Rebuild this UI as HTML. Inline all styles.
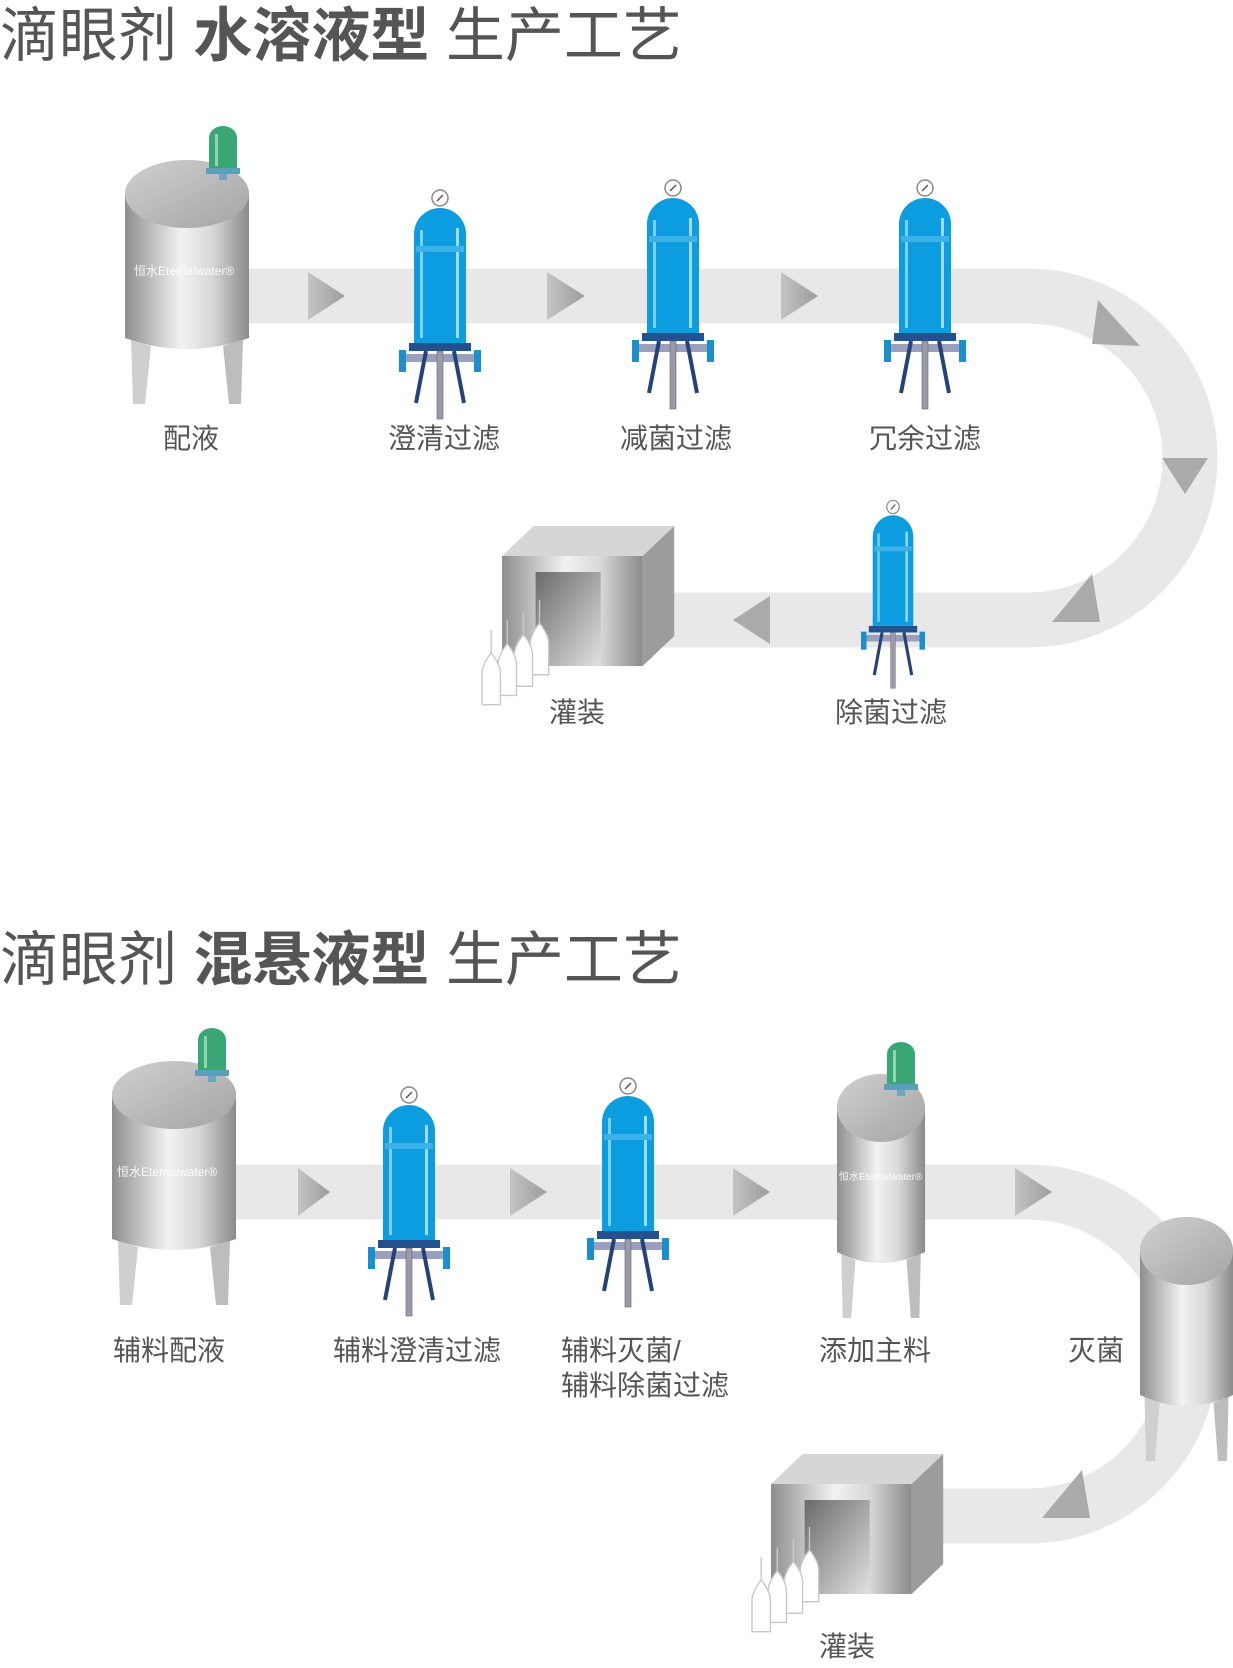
<!DOCTYPE html>
<html><head><meta charset="utf-8">
<style>
html,body{margin:0;padding:0;background:#fff;}
svg{display:block;}
text{font-family:"Liberation Sans","Noto Sans CJK SC",sans-serif;}
</style></head><body>
<svg width="1233" height="1668" viewBox="0 0 1233 1668" xmlns="http://www.w3.org/2000/svg">
<defs>
<linearGradient id="steel" x1="0" x2="1" y1="0" y2="0">
<stop offset="0" stop-color="#8e8e8e"/><stop offset="0.45" stop-color="#f2f2f2"/><stop offset="0.7" stop-color="#d8d8d8"/><stop offset="1" stop-color="#8a8a8a"/>
</linearGradient>
<linearGradient id="steelTop" x1="0" x2="1" y1="0" y2="1">
<stop offset="0" stop-color="#d0d0d0"/><stop offset="1" stop-color="#a4a4a4"/>
</linearGradient>
<linearGradient id="door" x1="0" x2="1" y1="0" y2="1">
<stop offset="0" stop-color="#6a6a6a"/><stop offset="1" stop-color="#e0e0e0"/>
</linearGradient>
<linearGradient id="arrowG" x1="0" x2="1"><stop offset="0" stop-color="#c4c4c4"/><stop offset="1" stop-color="#9c9c9c"/></linearGradient>
<g id="filter">
<circle cx="0" cy="0" r="8" fill="#fff" stroke="#888" stroke-width="1.5"/>
<line x1="-3" y1="3" x2="3" y2="-3" stroke="#555" stroke-width="1.5"/>
<path d="M-26 145 V36 A26 26 0 0 1 26 36 V145 Z" fill="#0c9de0"/>
<rect x="-20" y="32" width="3" height="108" fill="#7fd0f5"/>
<rect x="16" y="30" width="3" height="110" fill="#9fdcf8"/>
<rect x="-24" y="48" width="48" height="6" fill="#3bb2ea"/>
<rect x="-31" y="145" width="62" height="8" fill="#23508f"/>
<rect x="-36" y="156" width="72" height="8" fill="#9aa0bb"/>
<rect x="-41" y="152" width="7" height="22" fill="#1a8fd0"/>
<rect x="34" y="152" width="7" height="22" fill="#1a8fd0"/>
<line x1="-14" y1="153" x2="-24" y2="205" stroke="#24427a" stroke-width="4"/>
<line x1="14" y1="153" x2="24" y2="205" stroke="#24427a" stroke-width="4"/>
<rect x="-3" y="153" width="6" height="68" fill="#9a9aaa" stroke="#666" stroke-width="0.6"/>
</g>
<g id="tank">
<path d="M0 34 A62 34 0 0 1 124 34 V178 Q62 200 0 178 Z" fill="url(#steel)"/>
<ellipse cx="62" cy="34" rx="62" ry="34" fill="url(#steelTop)"/>
<path d="M6 180 L8 244 L20 244 L26 186 Z" fill="#cfcfcf"/>
<path d="M98 186 L104 244 L116 244 L118 180 Z" fill="#bdbdbd"/>
</g>
<g id="motor">
<path d="M0 44 V12 A14 12 0 0 1 28 12 V44 Z" fill="#3aa675"/>
<rect x="6" y="8" width="3" height="32" fill="#8fd6b0"/>
<rect x="-3" y="42" width="34" height="6" fill="#5aa0b8"/>
<rect x="10" y="48" width="8" height="6" fill="#6aa8c0"/>
</g>
<g id="box">
<polygon points="0,30 30,0 164,0 134,30" fill="#d6d6d6"/>
<polygon points="134,30 164,0 164,110 134,140" fill="#9c9c9c"/>
<rect x="0" y="30" width="134" height="110" fill="url(#steel)"/>
<rect x="32" y="46" width="62" height="94" fill="url(#door)"/>
</g>
<g id="bottles" fill="#fff" stroke="#c8c8c8" stroke-width="1.2">
<path d="M50 0 L50 20 Q58 30 58 38 L58 65 L42 65 L42 38 Q42 30 50 20 Z"/>
<path d="M36 10 L36 30 Q44 40 44 48 L44 75 L28 75 L28 48 Q28 40 36 30 Z"/>
<path d="M22 18 L22 38 Q30 48 30 56 L30 83 L14 83 L14 56 Q14 48 22 38 Z"/>
<path d="M8 26 L8 46 Q16 56 16 64 L16 91 L0 91 L0 64 Q0 56 8 46 Z"/>
</g>
</defs>

<!-- ===== TOP SECTION ===== -->
<text x="0" y="56" font-size="59" fill="#555">滴眼剂 <tspan font-weight="bold">水溶液型</tspan> 生产工艺</text>

<path d="M240 296 H1028 A162 162 0 0 1 1028 620 H660" fill="none" stroke="#e8e8e8" stroke-width="55"/>
<polygon points="308,272 345,296 308,320" fill="url(#arrowG)"/>
<polygon points="547,272 585,296 547,320" fill="url(#arrowG)"/>
<polygon points="781,272 818,296 781,320" fill="url(#arrowG)"/>
<polygon points="1098,300 1140,346 1092,344" fill="#aaa"/>
<polygon points="1162,458 1208,458 1185,494" fill="#aaa"/>
<polygon points="1092,574 1100,622 1052,622" fill="#aaa"/>
<polygon points="770,596 733,620 770,644" fill="#aaa"/>

<use href="#tank" x="125" y="160"/>
<text x="134" y="275" font-size="12" fill="#fff" opacity="0.9">恒水Eternalwater®</text>
<use href="#motor" x="209" y="126"/>

<use href="#filter" x="440" y="198"/>
<use href="#filter" x="673" y="188"/>
<use href="#filter" x="925" y="188"/>

<g transform="translate(893,507) scale(0.78,0.82)"><use href="#filter"/></g>

<g transform="translate(502,526) scale(1.05,1)"><use href="#box"/></g>
<g transform="translate(482,600) scale(1.15)"><use href="#bottles"/></g>

<g font-size="28" fill="#555" text-anchor="middle">
<text x="191" y="448">配液</text>
<text x="444" y="448">澄清过滤</text>
<text x="676" y="448">减菌过滤</text>
<text x="925" y="448">冗余过滤</text>
<text x="577" y="722">灌装</text>
<text x="891" y="722">除菌过滤</text>
</g>

<!-- ===== BOTTOM SECTION ===== -->
<text x="0" y="980" font-size="59" fill="#555">滴眼剂 <tspan font-weight="bold">混悬液型</tspan> 生产工艺</text>

<path d="M234 1192 H1028 A162 162 0 0 1 1028 1516 H930" fill="none" stroke="#e8e8e8" stroke-width="55"/>
<polygon points="298,1168 330,1192 298,1216" fill="url(#arrowG)"/>
<polygon points="510,1168 547,1192 510,1216" fill="url(#arrowG)"/>
<polygon points="733,1168 770,1192 733,1216" fill="url(#arrowG)"/>
<polygon points="1015,1168 1052,1192 1015,1216" fill="url(#arrowG)"/>
<polygon points="1082,1470 1090,1518 1042,1518" fill="#aaa"/>

<use href="#tank" x="112" y="1061"/>
<text x="117" y="1176" font-size="12" fill="#fff" opacity="0.9">恒水Eternalwater®</text>
<use href="#motor" x="198" y="1028"/>

<use href="#filter" x="409" y="1095"/>
<use href="#filter" x="628" y="1086"/>

<g transform="translate(837,1074) scale(0.71,1)"><use href="#tank"/></g>
<text x="839" y="1180" font-size="10" fill="#fff" opacity="0.9">恒水Eternalwater®</text>
<use href="#motor" x="887" y="1042"/>

<g transform="translate(1140,1217) scale(0.75,1)"><use href="#tank"/></g>

<g transform="translate(771,1454) scale(1.05,1)"><use href="#box"/></g>
<g transform="translate(752,1527) scale(1.15)"><use href="#bottles"/></g>

<g font-size="28" fill="#555">
<text x="113" y="1360">辅料配液</text>
<text x="333" y="1360">辅料澄清过滤</text>
<text x="561" y="1360">辅料灭菌/</text>
<text x="561" y="1395">辅料除菌过滤</text>
<text x="819" y="1360">添加主料</text>
<text x="1068" y="1360">灭菌</text>
<text x="819" y="1656">灌装</text>
</g>
</svg>
</body></html>
